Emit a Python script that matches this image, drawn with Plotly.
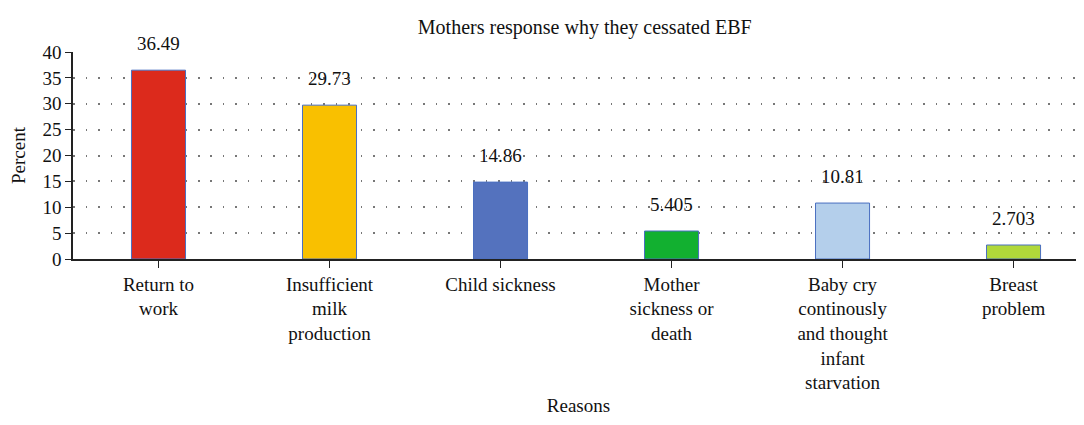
import plotly.graph_objects as go

categories = ["Return to<br>work", "Insufficient<br>milk<br>production", "Child sickness",
              "Mother<br>sickness or<br>death", "Baby cry<br>continously<br>and thought<br>infant<br>starvation",
              "Breast<br>problem"]
values = [36.49, 29.73, 14.86, 5.405, 10.81, 2.703]
labels = ["36.49", "29.73", "14.86", "5.405", "10.81", "2.703"]
colors = ["#DC2A1C", "#F9C000", "#5472BE", "#12B030", "#B4CFEB", "#B0D83A"]
y_ticks = [0, 5, 10, 15, 20, 25, 30, 35, 40]

FONT = "Liberation Serif"
FS = 19

fig = go.Figure()
fig.add_trace(go.Bar(
    x=list(range(len(categories))), y=values,
    marker=dict(color=colors, line=dict(color="#4A6FC0", width=1)),
    width=0.316,
))
for i, (v, t) in enumerate(zip(values, labels)):
    fig.add_annotation(x=i, y=v, text=t, showarrow=False, yanchor="bottom", yshift=14,
                       font=dict(family=FONT, size=FS, color="#111"))

fig.update_layout(
    width=1076, height=417,
    margin=dict(l=65, r=0, t=44, b=166),
    paper_bgcolor="white", plot_bgcolor="white",
    showlegend=False,
    font=dict(family=FONT, size=FS, color="#111"),
    title=dict(text="Mothers response why they cessated EBF", x=0.536, xanchor="center",
               y=0.954, yanchor="middle", font=dict(family=FONT, size=20, color="#111")),
    xaxis=dict(
        tickmode="array", tickvals=list(range(len(categories))), ticktext=categories,
        range=[-0.5, 5.412], showline=True, linecolor="#222", linewidth=1.5,
        ticks="outside", ticklen=7, tickcolor="#222", showgrid=False, zeroline=False,
        automargin=False,
        title=dict(text="Reasons", standoff=6, font=dict(family=FONT, size=FS)),
        tickfont=dict(family=FONT, size=FS),
    ),
    yaxis=dict(
        range=[0, 40], tickvals=y_ticks, showline=True, linecolor="#222", linewidth=1.5,
        ticks="outside", ticklen=6, tickcolor="#222", automargin=False,
        showgrid=True, gridcolor="#777", gridwidth=1.5, griddash="1.5px,11px", zeroline=False,
        title=dict(text="Percent", standoff=20, font=dict(family=FONT, size=FS)),
        tickfont=dict(family=FONT, size=FS),
    ),
)
fig.write_html("out.html")
